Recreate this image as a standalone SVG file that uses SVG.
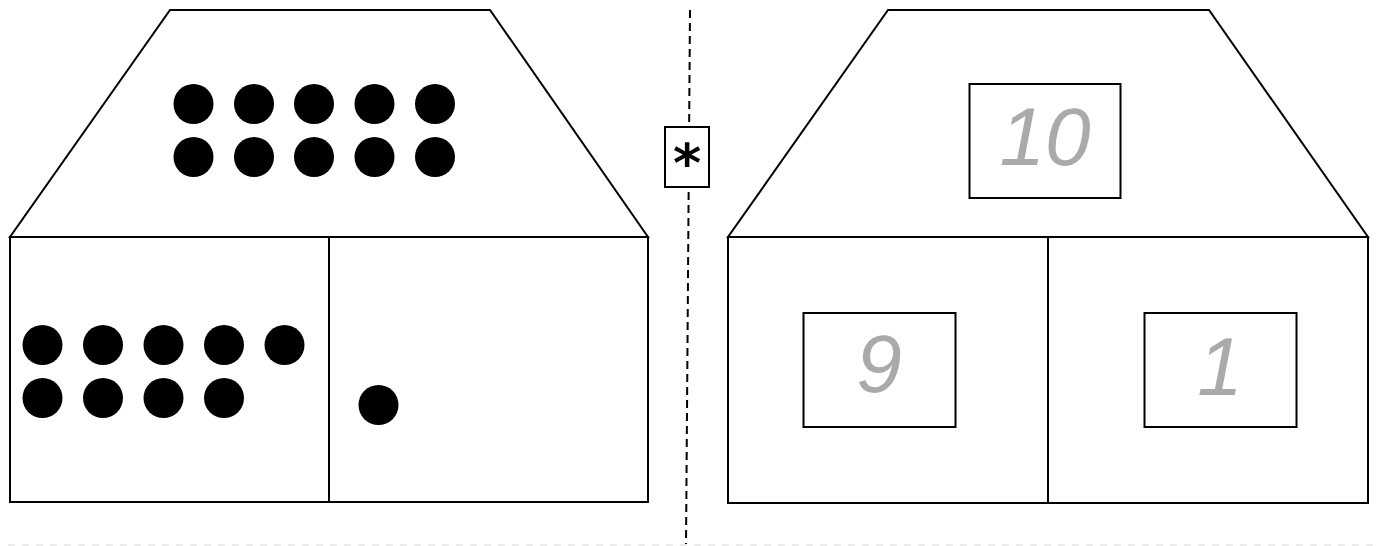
<svg xmlns="http://www.w3.org/2000/svg" width="1376" height="546" viewBox="0 0 1376 546">
<style>
.ln{fill:#fff;stroke:#000;stroke-width:2}
.dot{fill:#000}
.num{font-family:"Liberation Sans",Arial,sans-serif;font-style:italic;font-size:82px;fill:#aaaaaa;text-anchor:middle}
.sep{stroke:#000;stroke-width:2;stroke-dasharray:8 5;fill:none}
</style>
<rect width="1376" height="546" fill="#fff"/>
<g id="connectors">
<line class="sep" x1="690" y1="10" x2="686" y2="546"/>
<line x1="8" y1="545" x2="1376" y2="545" stroke="#ececec" stroke-width="2" stroke-dasharray="7 7"/>
</g>
<g id="left-house">
<polygon class="ln" points="170,10 490,10 648,237 10,237"/>
<rect class="ln" x="10" y="237" width="638" height="265"/>
<line class="ln" x1="329" y1="237" x2="329" y2="502"/>
<g class="dot">
<circle cx="193.5" cy="104" r="20"/><circle cx="254" cy="104" r="20"/><circle cx="314" cy="104" r="20"/><circle cx="374.5" cy="104" r="20"/><circle cx="435" cy="104" r="20"/>
<circle cx="193.5" cy="157" r="20"/><circle cx="254" cy="157" r="20"/><circle cx="314" cy="157" r="20"/><circle cx="374.5" cy="157" r="20"/><circle cx="435" cy="157" r="20"/>
<circle cx="42.5" cy="345" r="20"/><circle cx="103" cy="345" r="20"/><circle cx="163.5" cy="345" r="20"/><circle cx="224" cy="345" r="20"/><circle cx="284.5" cy="345" r="20"/>
<circle cx="42.5" cy="398" r="20"/><circle cx="103" cy="398" r="20"/><circle cx="163.5" cy="398" r="20"/><circle cx="224" cy="398" r="20"/>
<circle cx="378.5" cy="405" r="20"/>
</g>
</g>
<g id="star-box">
<rect class="ln" x="665" y="127" width="44" height="60"/>
<text x="687" y="182" font-family="'DejaVu Sans',sans-serif" font-weight="bold" font-size="54" text-anchor="middle" fill="#000">*</text>
</g>
<g id="right-house">
<polygon class="ln" points="888,10 1209,10 1368,237 728,237"/>
<rect class="ln" x="728" y="237" width="640" height="266"/>
<line class="ln" x1="1048" y1="237" x2="1048" y2="503"/>
</g>
<g id="box-10">
<rect class="ln" x="969.5" y="84" width="151" height="114"/>
<text class="num" x="1045" y="165">10</text>
</g>
<g id="box-9">
<rect class="ln" x="803.5" y="313" width="152" height="114"/>
<text class="num" x="879" y="392">9</text>
</g>
<g id="box-1">
<rect class="ln" x="1144.5" y="313" width="152" height="114"/>
<text class="num" x="1220" y="395">1</text>
</g>
</svg>
